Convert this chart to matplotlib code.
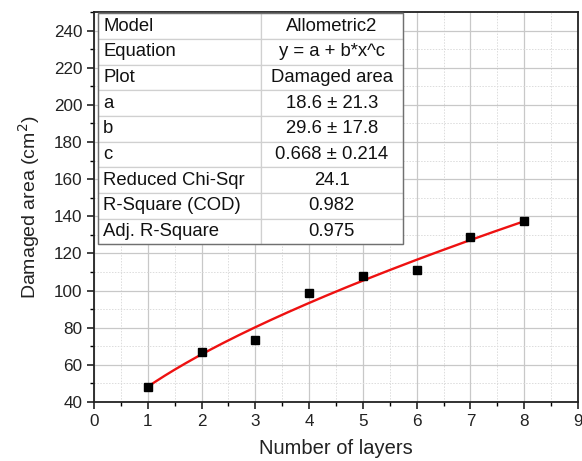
import numpy as np
import matplotlib

matplotlib.use("Agg")
import matplotlib.pyplot as plt
from matplotlib.ticker import MultipleLocator

plt.rcParams["font.family"] = ["Liberation Sans", "DejaVu Sans"]

# measured damaged area per number of layers
camadas = [1, 2, 3, 4, 5, 6, 7, 8]
area = [48.2, 67.1, 73.2, 98.8, 108.1, 111.0, 128.6, 137.3]

# Allometric2 fit parameters: y = a + b*x^c
a_fit = 18.6
b_fit = 29.6
c_fit = 0.668

linhas_tabela = [
    ("Model", "Allometric2"),
    ("Equation", "y = a + b*x^c"),
    ("Plot", "Damaged area"),
    ("a", "18.6 ± 21.3"),
    ("b", "29.6 ± 17.8"),
    ("c", "0.668 ± 0.214"),
    ("Reduced Chi-Sqr", "24.1"),
    ("R-Square (COD)", "0.982"),
    ("Adj. R-Square", "0.975"),
]

fig = plt.figure(figsize=(5.82, 4.61), dpi=100)
ax = fig.add_axes([0.1615, 0.128, 0.8315, 0.846])

ax.set_xlim(0, 9)
ax.set_ylim(40, 250)
ax.xaxis.set_major_locator(MultipleLocator(1))
ax.xaxis.set_minor_locator(MultipleLocator(0.5))
ax.yaxis.set_major_locator(MultipleLocator(20))
ax.yaxis.set_minor_locator(MultipleLocator(10))

ax.grid(which="major", color="#c8c8c8", linewidth=0.9, linestyle="-")
ax.grid(which="minor", color="#dcdcdc", linewidth=0.7, linestyle=(0, (1.5, 1.5)))
ax.set_axisbelow(True)

ax.tick_params(which="major", direction="out", length=5, width=1.2, labelsize=12.3,
               colors="#222222", top=False, right=False)
ax.tick_params(which="minor", direction="out", length=3, width=1.0,
               top=False, right=False)
for lado in ax.spines.values():
    lado.set_linewidth(1.3)
    lado.set_color("#222222")

xs = np.linspace(1, 8, 200)
ax.plot(xs, a_fit + b_fit * xs ** c_fit, color="#ee1111", linewidth=1.7, zorder=3)
ax.plot(camadas, area, linestyle="none", marker="s", markersize=6.2,
        color="black", zorder=4)

ax.set_xlabel("Number of layers", fontsize=14.5, labelpad=7, color="#222222")
ax.set_ylabel("Damaged area (cm$^2$)", fontsize=14, labelpad=8, color="#222222")

# parameter table in the upper left corner
tx, ty, tw, th = 0.0089, 0.4044, 0.629, 0.592
tab = ax.table(cellText=[list(r) for r in linhas_tabela],
               cellLoc="center", colWidths=[0.534, 0.466],
               bbox=[tx, ty, tw, th])
tab.auto_set_font_size(False)
for (i, j), cel in tab.get_celld().items():
    cel.set_facecolor("white")
    cel.set_edgecolor("#d0d0d0")
    cel.set_linewidth(0.9)
    cel.get_text().set_fontsize(13.3)
    cel.get_text().set_color("#111111")
    if j == 0:
        cel.get_text().set_ha("left")
        cel.PAD = 0.03
tab.set_zorder(5)

# darker outline around the table
ax.add_patch(plt.Rectangle((tx, ty), tw, th, transform=ax.transAxes, fill=False,
                           edgecolor="#707070", linewidth=1.0, zorder=6))

fig.savefig("out.png", dpi=100)
